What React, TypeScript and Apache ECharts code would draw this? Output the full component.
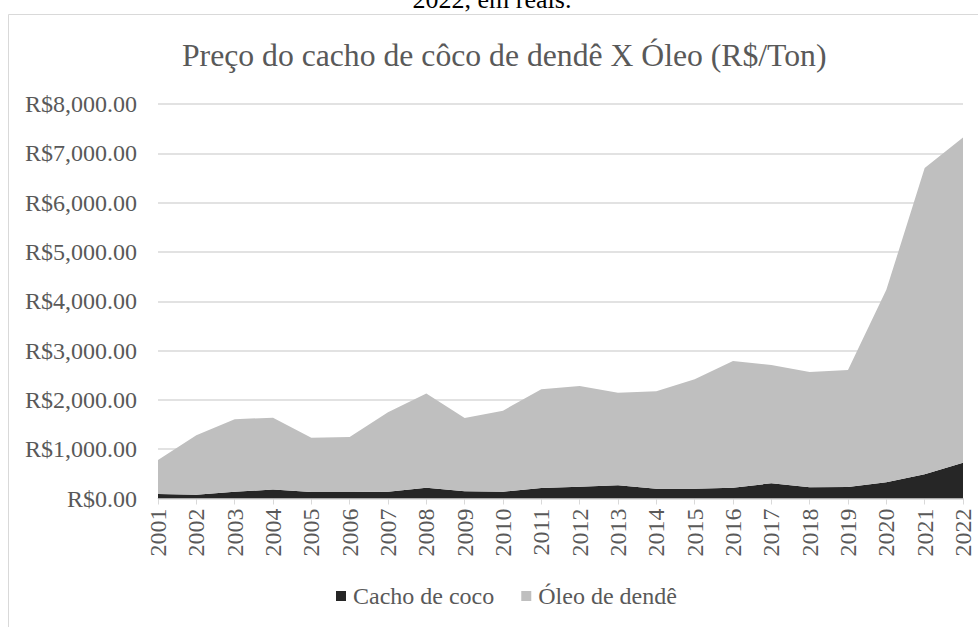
import React, { useEffect, useRef } from "react";
import * as echarts from "echarts";

const years = ["2001","2002","2003","2004","2005","2006","2007","2008","2009","2010","2011","2012","2013","2014","2015","2016","2017","2018","2019","2020","2021","2022"];
const cachoDeCoco = [91, 77, 139, 180, 132, 132, 139, 220, 146, 139, 213, 240, 267, 200, 200, 220, 308, 227, 233, 328, 491, 727];
const oleoDeDende = [689, 1206, 1468, 1460, 1102, 1116, 1610, 1907, 1487, 1643, 2003, 2043, 1880, 1975, 2218, 2570, 2401, 2340, 2374, 3903, 6209, 6595];

const FONT = "Liberation Serif";
const TXT = "#595959";

export default function App() {
  const ref = useRef<HTMLDivElement>(null);
  useEffect(() => {
    if (!ref.current) return;
    const chart = echarts.init(ref.current, null, { renderer: "svg" });
    const fmt = (v: number) =>
      "R$" + v.toLocaleString("en-US", { minimumFractionDigits: 2, maximumFractionDigits: 2 });
    chart.setOption({
      animation: false,
      backgroundColor: "#ffffff",
      textStyle: { fontFamily: FONT },
      graphic: [
        {
          type: "rect",
          shape: { x: 8.5, y: 14.5, width: 1000, height: 700 },
          style: { fill: "none", stroke: "#d9d9d9", lineWidth: 1 },
          silent: true,
        },
        {
          type: "text",
          x: 492,
          y: 12,
          style: {
            text: "2022, em reais.",
            font: `26px ${FONT}`,
            fill: "#000000",
            align: "center",
            verticalAlign: "bottom",
          },
          silent: true,
        },
      ],
      title: {
        text: "Preço do cacho de côco de dendê X Óleo (R$/Ton)",
        left: 177,
        top: 34,
        textStyle: { fontFamily: FONT, fontSize: 31.7, fontWeight: "normal", color: TXT },
      },
      legend: {
        bottom: 14,
        left: 331,
        itemWidth: 10,
        itemHeight: 10,
        itemGap: 27,
        icon: "rect",
        textStyle: { fontFamily: FONT, fontSize: 24, color: TXT, padding: [0, 0, 0, 2] },
        data: ["Cacho de coco", "Óleo de dendê"],
      },
      grid: { left: 158, right: 15, top: 104, bottom: 128.5, containLabel: false },
      xAxis: {
        type: "category",
        data: years,
        boundaryGap: false,
        axisLine: { lineStyle: { color: "#d9d9d9", width: 1 } },
        axisTick: { show: true, length: 6, lineStyle: { color: "#d9d9d9" }, alignWithLabel: true },
        axisLabel: { rotate: 90, fontFamily: FONT, fontSize: 24, color: TXT, margin: 10, interval: 0 },
        splitLine: { show: false },
      },
      yAxis: {
        type: "value",
        min: 0,
        max: 8000,
        interval: 1000,
        axisLine: { show: false },
        axisTick: { show: false },
        axisLabel: { fontFamily: FONT, fontSize: 24, color: TXT, margin: 21, formatter: fmt },
        splitLine: { lineStyle: { color: "#d9d9d9", width: 1.5 } },
      },
      series: [
        {
          name: "Cacho de coco",
          type: "line",
          stack: "total",
          data: cachoDeCoco,
          symbol: "none",
          lineStyle: { width: 0 },
          itemStyle: { color: "#262626" },
          areaStyle: { color: "#262626", opacity: 1 },
        },
        {
          name: "Óleo de dendê",
          type: "line",
          stack: "total",
          data: oleoDeDende,
          symbol: "none",
          lineStyle: { width: 0 },
          itemStyle: { color: "#bfbfbf" },
          areaStyle: { color: "#bfbfbf", opacity: 1 },
        },
      ],
    });
    return () => chart.dispose();
  }, []);
  return (
    <div
      ref={ref}
      style={{ position: "absolute", left: 0, top: 0, width: 978, height: 627 }}
    />
  );
}
